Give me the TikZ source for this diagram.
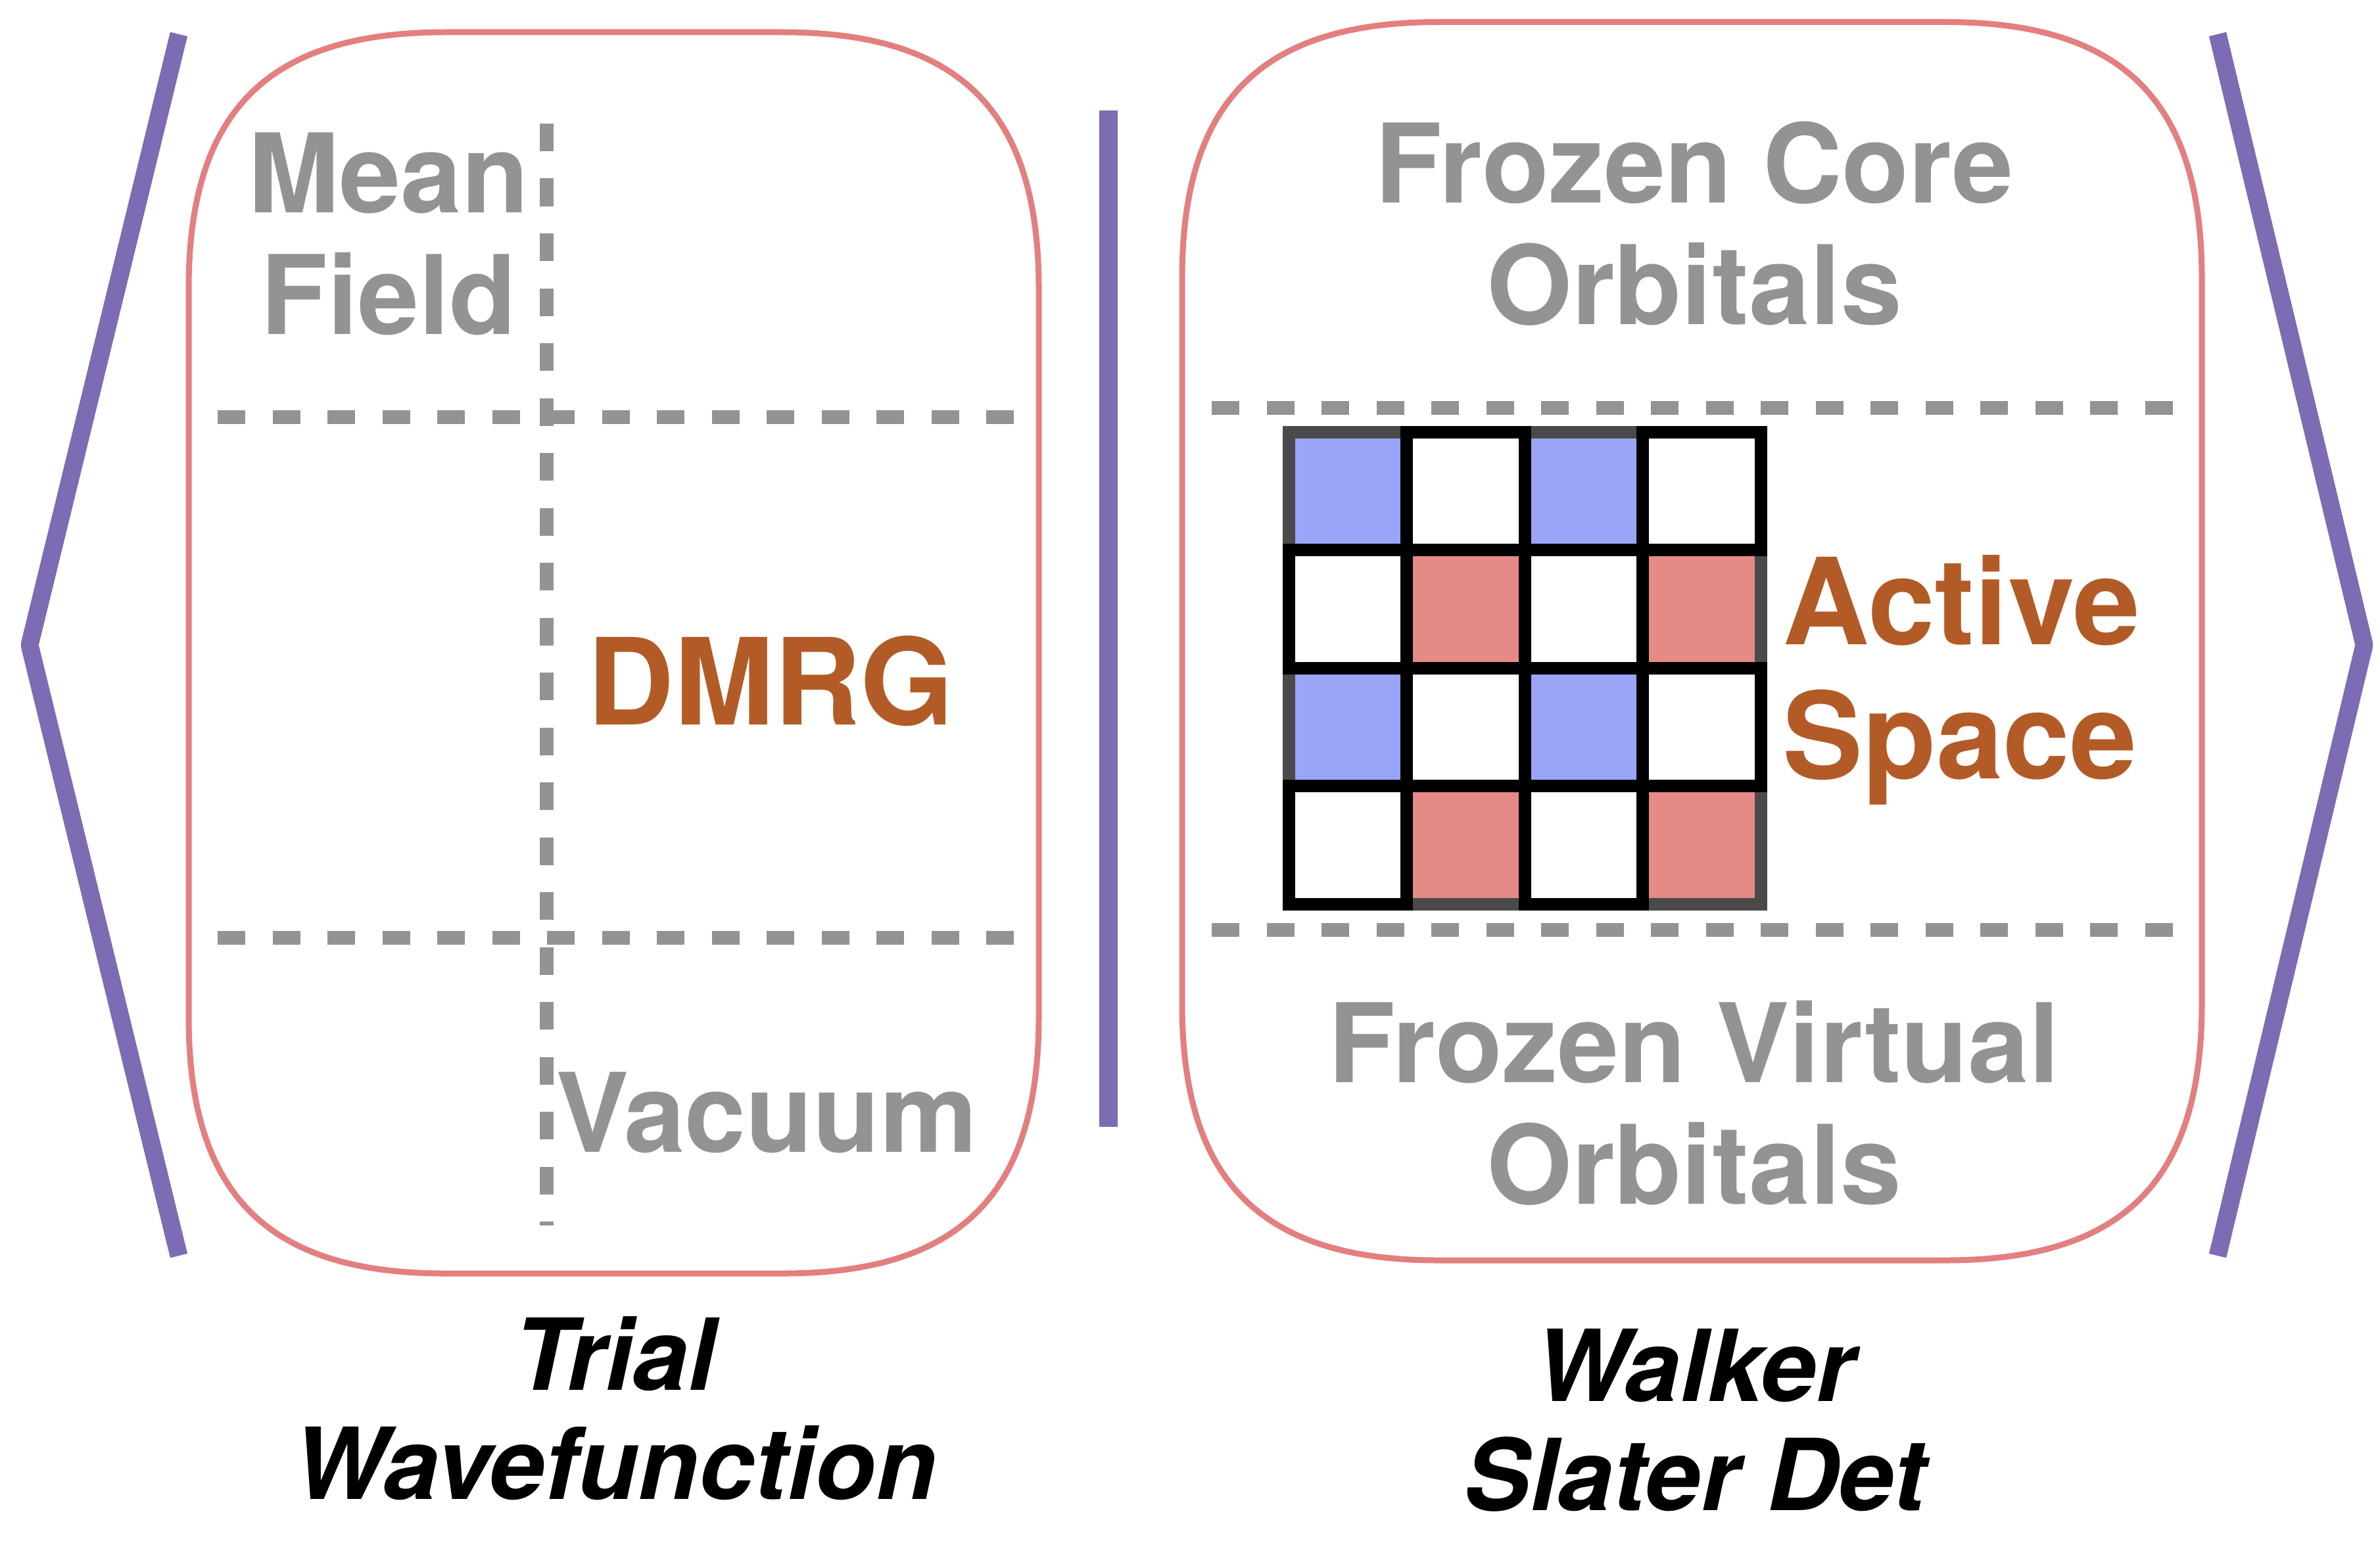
\documentclass[tikz,border=0pt]{standalone}
\usepackage{fontspec}
\setmainfont{TeX Gyre Heros}
\usepackage{tikz}

\definecolor{bracketpurple}{HTML}{7D6BB3}
\definecolor{boxpink}{HTML}{E37F7F}
\definecolor{midgray}{HTML}{939393}
\definecolor{activeorange}{HTML}{B35B26}
\definecolor{cellblue}{HTML}{9AA5F8}
\definecolor{cellred}{HTML}{E68A87}
\definecolor{celledge}{HTML}{4A4A4A}

% soft box: top left (#1,#2), bottom right (#3,#4)
\newcommand{\softbox}[4]{%
 \draw[boxline] (#1,{#2-3.9}) .. controls (#1,{#2-1.2}) and ({#1+1.2},#2) .. ({#1+3.9},#2)
 -- ({#3-3.9},#2) .. controls ({#3-1.2},#2) and (#3,{#2-1.2}) .. (#3,{#2-3.9})
 -- (#3,{#4+3.9}) .. controls (#3,{#4+1.2}) and ({#3-1.2},#4) .. ({#3-3.9},#4)
 -- ({#1+3.9},#4) .. controls ({#1+1.2},#4) and (#1,{#4+1.2}) .. (#1,{#4+3.9})
 -- cycle;}

\begin{document}
\begin{tikzpicture}[
 bracket/.style={draw=bracketpurple, line width=0.27cm, line join=bevel},
 boxline/.style={draw=boxpink, line width=0.09cm},
 cut/.style={draw=midgray, line width=0.21cm, dash pattern=on 0.42cm off 0.415cm},
 greylabel/.style={text=midgray, font=\fontsize{47.5}{52.4}\selectfont\bfseries, align=center, inner sep=0pt},
 activelabel/.style={text=activeorange, font=\fontsize{52}{57.8}\selectfont\bfseries, inner sep=0pt},
 caption/.style={font=\fontsize{43}{47.2}\selectfont\bfseries\itshape, align=center, inner sep=0pt},
 cell/.style={line width=0.19cm},
]
 \useasboundingbox (0,0) rectangle (36.20,-23.47);

 % angle brackets and the bar
 \draw[bracket] (2.72,-0.52) -- (0.45,-9.81) -- (2.72,-19.10);
 \draw[bracket] (33.73,-0.52) -- (35.96,-9.81) -- (33.73,-19.10);
 \draw[draw=bracketpurple, line width=0.28cm] (16.86,-1.68) -- (16.86,-17.14);

 % the two boxes
 \softbox{2.87}{-0.49}{15.80}{-19.37}
 \softbox{17.98}{-0.335}{33.49}{-19.17}

 % trial wavefunction
 \draw[cut] (8.31,-1.88) -- (8.31,-18.64);
 \draw[cut] (3.31,-6.34) -- (15.46,-6.34);
 \draw[cut] (3.31,-14.26) -- (15.46,-14.26);
 \node[greylabel, anchor=base] (mf) at (5.91,-5.08) {Mean\\Field};
 \node[activelabel, anchor=base] (dmrg) at (11.72,-11.02) {DMRG};
 \node[greylabel, anchor=base] (vac) at (11.66,-17.52) {Vacuum};

 % walker
 \draw[cut] (18.43,-6.20) -- (33.06,-6.20);
 \draw[cut] (18.43,-14.14) -- (33.06,-14.14);
 \foreach \c/\r in {0/0,2/0,0/2,2/2}
  \draw[cell, draw=celledge, fill=cellblue] ({19.60+1.795*\c},{-6.57-1.795*\r}) rectangle ++(1.795,-1.795);
 \foreach \c/\r in {1/1,3/1,1/3,3/3}
  \draw[cell, draw=celledge, fill=cellred] ({19.60+1.795*\c},{-6.57-1.795*\r}) rectangle ++(1.795,-1.795);
 \foreach \c/\r in {1/0,3/0,0/1,2/1,1/2,3/2,0/3,2/3}
  \draw[cell, draw=black, fill=white] ({19.60+1.795*\c},{-6.57-1.795*\r}) rectangle ++(1.795,-1.795);
 \node[greylabel, anchor=base] (core) at (25.77,-4.93) {Frozen Core\\Orbitals};
 \node[activelabel, align=left, anchor=base west] (act) at (27.11,-11.84) {Active\\Space};
 \node[greylabel, anchor=base] (virt) at (25.77,-18.31) {Frozen Virtual\\Orbitals};

 % captions
 \node[caption, anchor=base] (trial) at (9.35,-22.80) {Trial\\Wavefunction};
 \node[caption, anchor=base] (walker) at (25.78,-22.97) {Walker\\Slater Det};
\end{tikzpicture}
\end{document}
